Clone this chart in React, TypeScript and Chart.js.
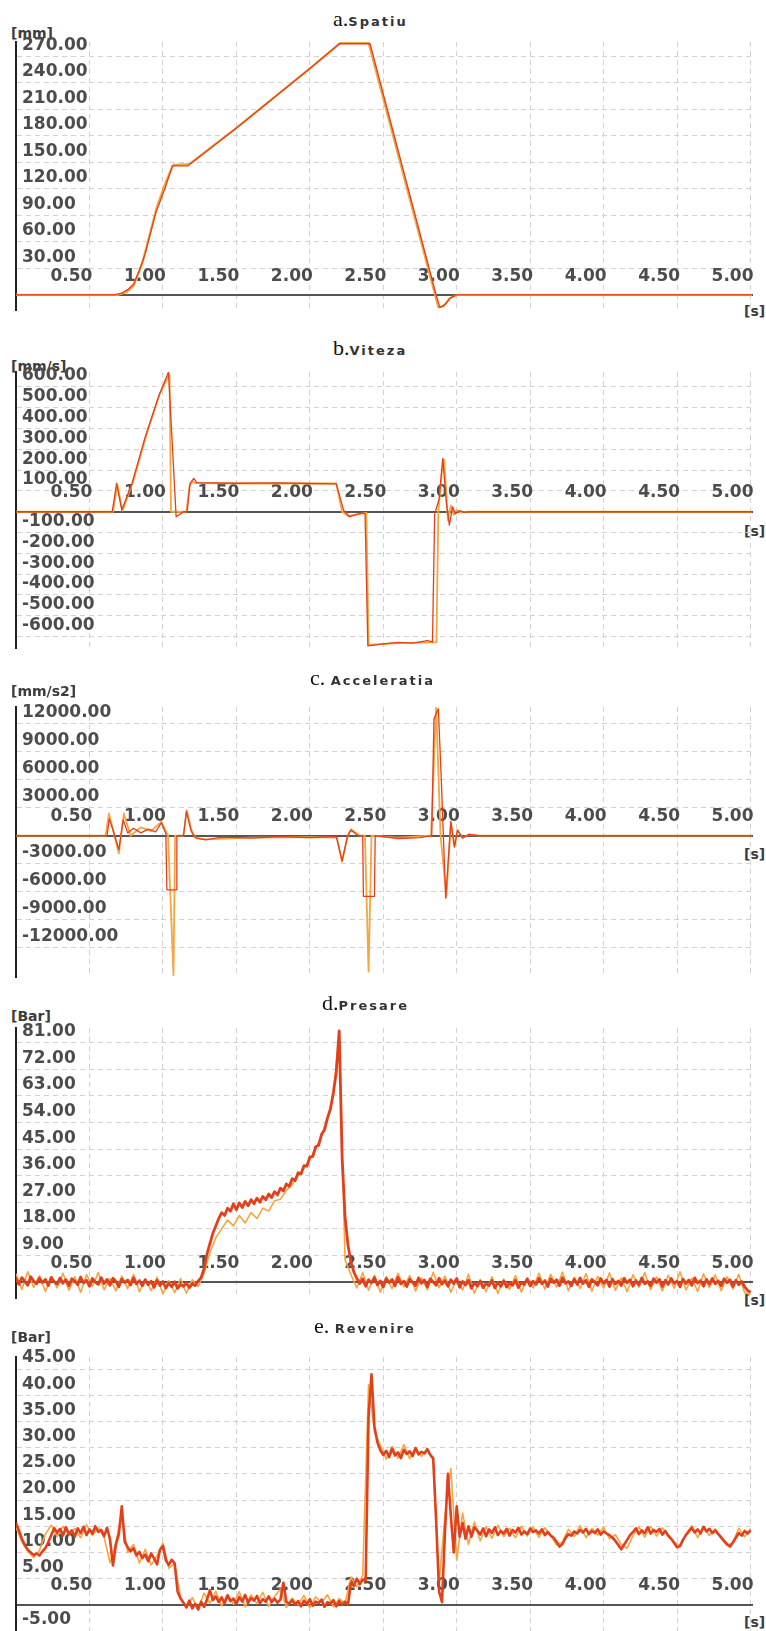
import React, { useEffect, useRef } from 'react';
import { Chart, registerables } from 'chart.js';

Chart.register(...registerables);

const RED = '#e2401c';
const ORANGE = '#f6a53f';
const TICK_COLOR = '#4b4d4b';
const GRID_COLOR = '#d2d2d2';
const SANS = "'DejaVu Sans', sans-serif";

// ---- tick values ----
const timeTicks = [0.5, 1, 1.5, 2, 2.5, 3, 3.5, 4, 4.5, 5];
const spatiuTicks = [0, 30, 60, 90, 120, 150, 180, 210, 240, 270];
const vitezaTicks = [-600, -500, -400, -300, -200, -100, 0, 100, 200, 300, 400, 500, 600];
const acceleratiaTicks = [-12000, -9000, -6000, -3000, 0, 3000, 6000, 9000, 12000];
const presareTicks = [0, 9, 18, 27, 36, 45, 54, 63, 72, 81];
const revenireTicks = [-5, 0, 5, 10, 15, 20, 25, 30, 35, 40, 45];

// ---- a. Spatiu [mm] ----
const spatiuTimesRed = [0, 0.67, 0.72, 0.76, 0.8, 0.84, 0.88, 0.95, 1.015, 1.065, 1.17, 1.51, 2.0, 2.2, 2.41, 2.86, 2.885, 2.92, 2.96, 3.0, 5.01];
const spatiuRed = [0, 0, 2, 6, 12, 28, 47, 92, 121, 146, 146, 190, 256, 284, 284, 0, -14, -11, -3, 0, 0];
const spatiuTimesOrange = [0, 0.69, 0.75, 0.8, 0.86, 0.9, 0.96, 1.02, 1.07, 1.18, 1.5, 2.0, 2.21, 2.4, 2.85, 2.875, 2.91, 2.95, 3.0, 5.01];
const spatiuOrange = [0, 0, 3, 10, 36, 62, 100, 128, 147, 148, 189, 256, 285, 285, 2, -14, -13, -4, 0, 0];

// ---- b. Viteza [mm/s] ----
const vitezaTimesRed = [0, 0.655, 0.685, 0.72, 0.79, 0.88, 0.97, 1.038, 1.09, 1.12, 1.14, 1.165, 1.185, 1.21, 1.23, 1.5, 1.8, 2.0, 2.18, 2.23, 2.27, 2.31, 2.36, 2.376, 2.395, 2.5, 2.6, 2.7, 2.8, 2.835, 2.85, 2.88, 2.905, 2.93, 2.95, 2.972, 2.99, 3.02, 3.05, 3.08, 5.01];
const vitezaRed = [0, 0, 137, 8, 137, 361, 553, 672, -24, -10, 0, 0, 137, 160, 140, 137, 139, 136, 134, 8, -24, -15, -5, -10, -645, -635, -628, -632, -620, -626, -10, 60, 257, 40, -64, 24, -10, 5, -3, 0, 0];
const vitezaTimesOrange = [0, 0.66, 0.69, 0.725, 0.8, 0.89, 0.98, 1.045, 1.055, 1.16, 1.18, 1.2, 1.22, 1.6, 2.18, 2.22, 2.26, 2.3, 2.385, 2.4, 2.6, 2.84, 2.862, 2.875, 2.9, 2.915, 2.94, 2.96, 2.98, 3.0, 3.03, 3.07, 5.01];
const vitezaOrange = [0, 0, 130, 5, 150, 375, 570, 660, 0, 0, 120, 145, 138, 136, 136, 0, -20, -15, -5, -640, -632, -628, -628, 0, 200, 250, -40, 30, -15, 8, -4, 0, 0];

// ---- c. Acceleratia [mm/s2] ----
const accelTimesRed = [0, 0.62, 0.635, 0.665, 0.7, 0.73, 0.76, 0.8, 0.85, 0.9, 0.95, 0.99, 1.02, 1.027, 1.09, 1.095, 1.14, 1.16, 1.19, 1.22, 1.29, 1.4, 1.6, 1.8, 2.0, 2.18, 2.22, 2.255, 2.28, 2.33, 2.36, 2.365, 2.44, 2.445, 2.6, 2.75, 2.83, 2.845, 2.875, 2.895, 2.925, 2.96, 2.985, 3.005, 3.04, 3.085, 3.15, 5.01];
const accelRed = [0, 0, 1800, 400, -1500, 1700, 300, 800, 300, 700, 400, 1400, 200, -5800, -5800, 0, 0, 2600, 600, -200, -450, -150, -250, -100, -200, -100, -2700, -100, 600, 0, 0, -6500, -6500, 0, -300, -200, 0, 12500, 13600, 6000, -6700, 1500, -1200, 600, -250, 150, 0, 0];
const accelTimesOrange = [0, 0.61, 0.633, 0.67, 0.7, 0.734, 0.78, 0.85, 0.92, 0.99, 1.035, 1.072, 1.083, 1.14, 1.162, 1.2, 1.23, 1.3, 1.6, 2.0, 2.185, 2.219, 2.26, 2.28, 2.34, 2.375, 2.4, 2.42, 2.6, 2.825, 2.86, 2.89, 2.93, 2.96, 2.984, 3.006, 3.04, 3.085, 3.15, 5.01];
const accelOrange = [0, 0, 2380, 0, -1900, 2380, 0, 900, 500, 1480, 0, -14940, 0, 0, 2730, 300, -300, -400, -200, -150, -200, -2800, 0, 700, 0, 0, -14580, 0, -200, 0, 13800, 0, -6500, 1480, -1200, 600, -250, 150, 0, 0];

// ---- d. Presare [Bar] (sampled every 0.02 s / 0.04 s) ----
const presareRedStep = 0.02;
const presareRed = [
  1.2, -0.8, 1.5, 0.2, -1.1, 1.8, 0.4, -0.6, 1.3, -0.2,
  0.9, -1.2, 1.6, 0.1, -0.7, 1.4, -0.4, 0.8, -1.3, 1.1,
  0.3, -0.9, 1.7, -0.3, 0.6, -1.4, 1.2, 0.0, -0.8, 1.5,
  -0.5, 0.9, -1.1, 1.3, 0.2, -1.6, 1.0, -0.2, 0.7, -1.0,
  1.4, -0.6, 0.5, -1.3, 0.8, -0.9, 0.3, -1.8, 0.6, -1.2,
  0.2, -2.0, -0.4, -1.6, 0.1, -2.2, -0.8, -1.5, -0.3, -1.9,
  -0.6, -1.2, 0.4, 1.5, 4.5, 9.5, 13.0, 16.5, 19.0, 21.5,
  23.5, 22.5, 25.0, 24.0, 26.5, 24.5, 26.8, 25.2, 27.3, 25.8,
  27.9, 26.5, 28.4, 27.0, 29.0, 27.8, 29.8, 28.6, 30.6, 29.5,
  31.8, 30.8, 33.2, 32.4, 35.0, 34.3, 37.0, 36.6, 39.4, 39.2,
  42.3, 42.5, 45.8, 46.3, 50.0, 51.5, 55.5, 58.5, 64.0, 71.0,
  85.0, 42.0, 22.0, 12.5, 6.8, 3.4, 1.2, -0.5, 1.1, -1.4,
  0.8, -0.3, 1.5, -1.0, 0.4, -1.7, 1.2, -0.2, 0.9, -1.3,
  1.6, -0.6, 0.3, -1.5, 1.0, -0.1, -1.2, 1.4, -0.4, 0.7,
  -1.6, 1.1, 0.0, -1.1, 1.3, -0.7, 0.5, -1.4, 0.8, -0.5,
  1.2, -1.8, 0.2, -1.0, 0.6, -2.1, -0.2, -1.4, 0.3, -1.9,
  -0.5, -1.2, 0.5, -2.0, -0.1, -1.5, 0.4, -1.7, -0.3, -1.1,
  0.6, -1.9, -0.2, -0.9, 1.0, -1.3, 0.3, -0.8, 1.3, -0.6,
  0.5, -1.5, 1.1, -0.2, 0.8, -1.2, 1.5, -0.4, 0.2, -1.3,
  1.0, -0.8, 1.4, -0.5, 0.6, -1.6, 0.9, -0.1, -1.1, 1.2,
  -0.4, 0.7, -1.5, 1.0, -0.7, 0.4, -1.2, 1.3, -0.3, 0.8,
  -1.4, 0.5, -0.9, 1.4, -0.6, 0.2, -1.3, 1.1, -0.2, 0.9,
  -1.5, 0.6, -0.8, 1.2, -0.4, 0.3, -1.6, 1.0, -0.5, 0.7,
  -1.1, 1.4, -0.3, 0.5, -1.4, 0.9, -0.7, 1.2, -0.6, 0.4,
  -1.3, 1.1, -0.2, 0.8, -1.5, 0.6, -0.9, 0.2, -1.6, -2.8,
  -3.5,
];
const presareOrangeStep = 0.04;
const presareOrange = [
  2.8, -2.5, 3.5, -1.8, 2.2, -3.2, 1.5, -2.0, 3.0, -2.8,
  1.8, -3.5, 2.5, -1.5, 3.2, -2.6, 1.2, -3.0, 2.0, -2.2,
  2.6, -3.3, 1.0, -2.9, 1.6, -4.0, 0.5, -3.6, 1.2, -3.8,
  0.8, -1.5, 3.0, 10.0, 15.0, 18.0, 21.0, 19.0, 22.5, 20.0,
  23.5, 21.5, 25.0, 24.0, 27.5, 28.0, 31.0, 33.0, 36.0, 38.5,
  41.5, 45.0, 49.5, 55.5, 63.0, 84.0, 7.5, 2.5, -2.0, 3.2,
  -2.8, 2.4, -3.4, 1.8, -2.2, 3.0, -1.6, 2.2, -3.0, 1.4,
  -2.6, 3.3, -1.9, 2.0, -3.5, 1.2, -2.7, 2.6, -3.8, 0.8,
  -3.2, 1.8, -3.9, 1.0, -2.5, 2.2, -3.4, 1.5, -2.0, 3.0,
  -2.4, 2.6, -1.7, 3.4, -2.9, 1.6, -2.2, 2.9, -3.1, 1.9,
  -2.0, 3.1, -2.8, 1.4, -3.3, 2.5, -1.8, 3.2, -2.6, 1.7,
  -3.0, 2.3, -2.1, 3.5, -2.7, 1.3, -3.2, 2.8, -1.9, 2.4,
  -2.9, 1.8, -2.4, 2.6, -3.6, -4.2,
];

// ---- e. Revenire [Bar] (sampled every 0.02 s / 0.04 s) ----
const revenireRedStep = 0.02;
const revenireRed = [
  15.6, 14.2, 12.6, 11.4, 10.5, 10.0, 9.5, 9.8, 9.4, 10.2,
  10.8, 12.0, 13.3, 14.6, 13.8, 14.5, 13.2, 14.8, 13.5, 14.2,
  13.0, 14.6, 13.7, 14.9, 13.3, 14.4, 13.6, 15.0, 13.9, 14.3,
  13.1, 14.7, 12.5, 7.5, 11.5, 13.5, 18.8, 12.0, 11.0, 10.2,
  10.8, 9.4, 10.1, 8.9, 9.6, 8.3, 9.8, 8.8, 7.7, 10.5,
  11.2, 8.5, 7.6, 8.6, 7.9, 2.5, 1.2, 0.4, -0.5, 0.8,
  -0.7, 0.2, -0.9, 0.6, -0.4, 1.0, 2.8, 0.9, 1.6, 0.5,
  1.4, 0.3, 1.8, 0.7, 1.2, 0.2, 1.5, 0.6, 1.9, 0.4,
  1.3, 0.8, 1.7, 0.3, 1.1, 0.6, 1.6, 0.5, 1.2, 0.4,
  1.0, 4.2, 0.6, 0.2, 0.9, 0.0, 0.7, -0.3, 0.8, 0.1,
  1.1, -0.2, 0.6, 0.3, 1.0, -0.4, 0.5, 0.2, 0.9, -0.3,
  0.7, 0.0, 0.6, 0.1, 4.2, 3.6, 5.0, 3.9, 4.8, 4.5,
  36.0, 44.0, 34.0, 31.0, 29.5, 28.6, 29.4, 28.2, 29.8, 28.5,
  29.1, 28.0, 29.6, 28.8, 29.3, 28.4, 29.9, 28.7, 29.2, 28.9,
  29.7, 28.6, 28.0, 16.0, 2.5, 0.5, 14.0, 25.0, 17.0, 10.0,
  18.8, 13.0, 15.6, 12.6, 15.0, 13.0, 14.8, 14.2, 13.4, 14.6,
  13.1, 14.4, 13.7, 14.8, 13.3, 14.1, 13.6, 14.5, 13.2, 14.3,
  13.8, 14.7, 13.4, 14.0, 13.5, 14.6, 13.9, 14.2, 13.6, 14.4,
  13.3, 13.9, 13.2, 12.8, 12.0, 11.1, 11.6, 12.7, 13.5, 13.2,
  14.0, 13.6, 14.3, 13.8, 14.5, 13.5, 14.1, 13.7, 14.4, 13.4,
  14.0, 13.6, 13.3, 12.8, 12.2, 11.4, 10.6, 11.5, 12.4, 13.3,
  13.9, 14.6, 13.5, 14.2, 13.7, 14.8, 13.6, 14.3, 13.9, 14.5,
  13.4, 14.1, 13.2, 12.6, 11.8, 11.0, 11.2, 12.4, 13.3, 14.0,
  14.7, 13.8, 14.4, 13.6, 14.9, 14.0, 14.5, 13.7, 14.2, 13.5,
  12.9, 12.2, 11.6, 11.1, 11.9, 12.8, 13.7, 13.2, 14.1, 13.6,
  14.2,
];
const revenireOrangeStep = 0.04;
const revenireOrange = [
  14.8, 12.0, 10.3, 9.0, 10.4, 13.5, 15.2, 13.0, 15.0, 13.4,
  14.6, 12.8, 15.3, 13.2, 14.7, 12.9, 8.0, 12.0, 17.5, 10.0,
  11.5, 8.0, 10.6, 7.6, 9.4, 11.8, 7.0, 7.8, 1.5, -0.6,
  1.4, -0.8, 2.2, 0.3, 2.6, -0.2, 2.0, 0.1, 2.5, -0.4,
  1.9, 0.2, 2.4, -0.3, 1.6, 3.0, -0.5, 1.3, 0.0, 1.8,
  -0.6, 1.5, 0.4, 1.9, -0.4, 1.2, 0.3, 5.3, 3.4, 5.6,
  42.0, 33.0, 30.5, 27.8, 30.2, 28.0, 30.6, 27.9, 30.0, 28.3,
  29.8, 27.5, 4.0, 17.0, 26.0, 8.5, 17.5, 11.5, 15.8, 12.2,
  14.9, 12.7, 15.2, 13.0, 14.6, 12.8, 15.0, 13.1, 14.8, 12.9,
  14.7, 13.2, 11.4, 12.0, 14.4, 13.0, 15.1, 12.8, 14.6, 13.3,
  14.8, 12.6, 13.4, 11.5, 10.8, 13.2, 14.9, 12.9, 15.0, 13.1,
  14.7, 13.0, 12.0, 11.2, 13.5, 15.1, 12.8, 14.9, 13.2, 14.5,
  12.6, 11.3, 11.9, 14.6, 13.0, 14.5,
];

// ---- helpers to build point lists ----
const pairs = (xs: number[], ys: number[]) => ys.map((y, i) => ({ x: xs[i], y }));
const sampled = (ys: number[], step: number) => ys.map((y, i) => ({ x: i * step, y }));

type Trace = { points: { x: number; y: number }[]; color: string; width: number };
type PanelDef = {
  prefix: string; name: string; titleLeft: number; titleBaseline: number;
  unit: string; unitCy: number; sCy: number;
  top: number; bottom: number; yMin: number; yMax: number; yTicks: number[];
  traces: Trace[];
};

const PANELS: PanelDef[] = [
  {
    prefix: 'a.', name: 'Spatiu', titleLeft: 333, titleBaseline: 26, unit: '[mm]', unitCy: 33, sCy: 311,
    top: 42, bottom: 310, yMin: -17, yMax: 286, yTicks: spatiuTicks,
    traces: [
      { points: pairs(spatiuTimesRed, spatiuRed), color: RED, width: 1.3 },
      { points: pairs(spatiuTimesOrange, spatiuOrange), color: ORANGE, width: 2.2 },
    ],
  },
  {
    prefix: 'b.', name: 'Viteza', titleLeft: 333, titleBaseline: 355, unit: '[mm/s]', unitCy: 366, sCy: 531,
    top: 372, bottom: 648, yMin: -655, yMax: 672, yTicks: vitezaTicks,
    traces: [
      { points: pairs(vitezaTimesRed, vitezaRed), color: RED, width: 1.3 },
      { points: pairs(vitezaTimesOrange, vitezaOrange), color: ORANGE, width: 1.8 },
    ],
  },
  {
    prefix: 'c. ', name: 'Acceleratia', titleLeft: 310, titleBaseline: 685, unit: '[mm/s2]', unitCy: 691, sCy: 854,
    top: 707, bottom: 977, yMin: -15150, yMax: 13800, yTicks: acceleratiaTicks,
    traces: [
      { points: pairs(accelTimesRed, accelRed), color: RED, width: 1.3 },
      { points: pairs(accelTimesOrange, accelOrange), color: ORANGE, width: 1.8 },
    ],
  },
  {
    prefix: 'd.', name: 'Presare', titleLeft: 322, titleBaseline: 1010, unit: '[Bar]', unitCy: 1016, sCy: 1300,
    top: 1028, bottom: 1298, yMin: -5.4, yMax: 86, yTicks: presareTicks,
    traces: [
      { points: sampled(presareRed, presareRedStep), color: RED, width: 2.8 },
      { points: sampled(presareOrange, presareOrangeStep), color: ORANGE, width: 1.6 },
    ],
  },
  {
    prefix: 'e. ', name: 'Revenire', titleLeft: 314, titleBaseline: 1333, unit: '[Bar]', unitCy: 1337, sCy: 1622,
    top: 1357, bottom: 1631, yMin: -5, yMax: 47.3, yTicks: revenireTicks,
    traces: [
      { points: sampled(revenireRed, revenireRedStep), color: RED, width: 2.6 },
      { points: sampled(revenireOrange, revenireOrangeStep), color: ORANGE, width: 1.6 },
    ],
  },
];

const PAD_T = 24;
const PAD_B = 24;
const WIDTH = 766;

function Panel({ def }: { def: PanelDef }) {
  const ref = useRef<HTMLCanvasElement>(null);
  const h = def.bottom - def.top + PAD_T + PAD_B;
  useEffect(() => {
    const tickFont = { family: SANS, weight: 'bold' as const, size: 17, lineHeight: 1.2 };
    const chart = new Chart(ref.current as HTMLCanvasElement, {
      type: 'line',
      data: {
        datasets: def.traces.map((t) => ({
          data: t.points,
          borderColor: t.color,
          backgroundColor: t.color,
          borderWidth: t.width,
          pointRadius: 0,
          tension: 0,
          fill: false,
          borderJoinStyle: 'round' as const,
        })),
      },
      options: {
        responsive: false,
        animation: false,
        devicePixelRatio: 1,
        events: [],
        layout: { padding: { left: 4, right: 14, top: PAD_T, bottom: PAD_B } },
        plugins: { legend: { display: false }, tooltip: { enabled: false }, title: { display: false } },
        scales: {
          x: {
            type: 'linear',
            min: 0,
            max: 5.01,
            position: { y: 0 } as any,
            afterBuildTicks: (s: any) => { s.ticks = timeTicks.map((v) => ({ value: v })); },
            ticks: {
              autoSkip: false,
              maxRotation: 0,
              align: 'end',
              labelOffset: 3,
              padding: -29,
              color: TICK_COLOR,
              font: tickFont,
              callback: (v: any) => Number(v).toFixed(2),
            },
            grid: { color: GRID_COLOR, lineWidth: 1, drawTicks: false },
            border: { display: true, color: '#555555', width: 2, dash: [5, 4] },
          },
          y: {
            type: 'linear',
            position: 'left',
            min: def.yMin,
            max: def.yMax,
            afterBuildTicks: (s: any) => { s.ticks = def.yTicks.map((v) => ({ value: v })); },
            ticks: {
              autoSkip: false,
              mirror: true,
              padding: 6,
              labelOffset: -11,
              color: TICK_COLOR,
              font: tickFont,
              callback: (v: any) => (Number(v) === 0 ? '' : Number(v).toFixed(2)),
            },
            grid: { color: GRID_COLOR, lineWidth: 1, drawTicks: false },
            border: { display: true, color: '#222222', width: 2, dash: [5, 4] },
          },
        },
      } as any,
    });
    return () => chart.destroy();
  }, []);
  return (
    <canvas
      ref={ref}
      width={WIDTH}
      height={h}
      style={{ position: 'absolute', left: 0, top: def.top - PAD_T, width: WIDTH, height: h }}
    />
  );
}

export default function App() {
  const labelStyle: React.CSSProperties = {
    position: 'absolute',
    fontFamily: SANS,
    fontWeight: 'bold',
    fontSize: 14,
    lineHeight: '16px',
    color: '#3c3c3c',
    whiteSpace: 'nowrap',
  };
  return (
    <div style={{ position: 'absolute', left: 0, top: 0, width: WIDTH, height: 1631, overflow: 'hidden', background: '#ffffff' }}>
      {PANELS.map((p, i) => (
        <React.Fragment key={i}>
          <div
            style={{
              position: 'absolute',
              left: p.titleLeft,
              top: p.titleBaseline - 18,
              fontFamily: "'Liberation Serif', serif",
              fontSize: 22,
              lineHeight: '22px',
              color: '#111',
              whiteSpace: 'pre',
            }}
          >
            <span>{p.prefix}</span>
            <span style={{ fontFamily: SANS, fontWeight: 'bold', fontSize: 13, letterSpacing: 2, color: '#333' }}>{p.name}</span>
          </div>
          <div style={{ ...labelStyle, left: 11, top: p.unitCy - 8 }}>{p.unit}</div>
          <div style={{ ...labelStyle, left: 744, top: p.sCy - 8 }}>[s]</div>
          <Panel def={p} />
        </React.Fragment>
      ))}
    </div>
  );
}
